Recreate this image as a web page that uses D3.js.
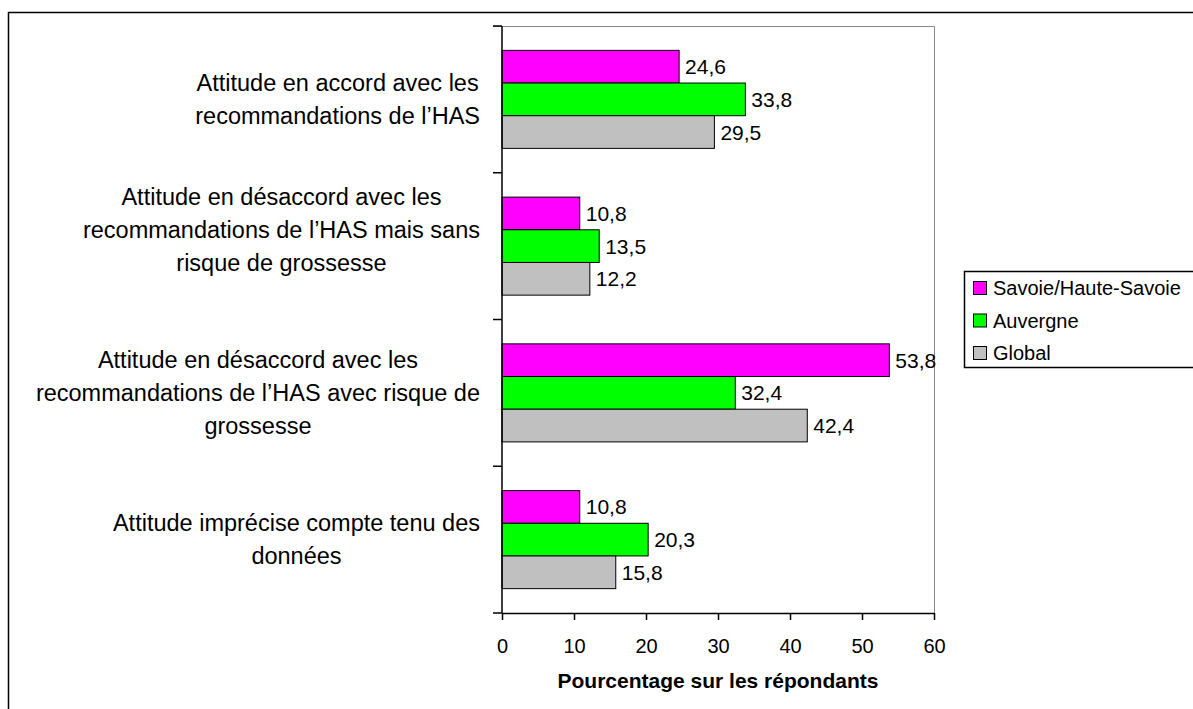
<html>
<head>
<meta charset="utf-8">
<title>Attitudes HAS</title>
<script src="https://cdn.jsdelivr.net/npm/d3@7/dist/d3.min.js"></script>
<style type="text/css">
    body { margin: 0; background: #fff; }
    svg { display: block; font-family: "Liberation Sans", Arial, sans-serif; }
</style>
</head>
<body>
<svg id="svg"></svg>
<script type="text/javascript">
// categories (one entry per wrapped line, as in the original)
var categories = ["accord", "desaccordSans", "desaccordAvec", "imprecise"];
var categoryLines = [
    ["Attitude en accord avec les", "recommandations de l\u2019HAS"],
    ["Attitude en désaccord avec les", "recommandations de l\u2019HAS mais sans", "risque de grossesse", ""],
    ["Attitude en désaccord avec les", "recommandations de l\u2019HAS avec risque de", "grossesse"],
    ["Attitude imprécise compte tenu des", "données"]
];
var seriesNames = ["Savoie/Haute-Savoie", "Auvergne", "Global"];
var savoieValues = [24.6, 10.8, 53.8, 10.8];
var auvergneValues = [33.8, 13.5, 32.4, 20.3];
var globalValues = [29.5, 12.2, 42.4, 15.8];
var xTicks = [0, 10, 20, 30, 40, 50, 60];
var xTitle = "Pourcentage sur les répondants";

var colors = ["#FF00FF", "#00FF00", "#C0C0C0"];
var allValues = [savoieValues, auvergneValues, globalValues];

var svgWidth = 1193, svgHeight = 709;
var plotLeft = 502, plotRight = 934, plotTop = 26, plotBottom = 613;

var svg = d3.select("svg")
    .attr("width", svgWidth)
    .attr("height", svgHeight);

// outer frame (runs off the right and bottom edges)
svg.append("rect")
    .attr("x", 8.5).attr("y", 12.5)
    .attr("width", 1200).attr("height", 720)
    .attr("fill", "none").attr("stroke", "#000").attr("stroke-width", 1.5);

var xScale = d3.scaleLinear().domain([0, 60]).range([plotLeft, plotRight]);
var y0 = d3.scaleBand().domain(categories).range([plotTop, plotBottom]);
var pad = y0.bandwidth() * 0.166;
var y1 = d3.scaleBand().domain(seriesNames).range([pad, y0.bandwidth() - pad]);

// plot area top and right borders (grey)
svg.append("path")
    .attr("d", "M" + (plotLeft - 9) + "," + (plotTop + 0.5) + "H" + (plotRight + 0.5) + "V" + plotBottom)
    .attr("fill", "none").attr("stroke", "#888").attr("stroke-width", 1);

// bars
var rows = [];
categories.forEach(function(c, i) {
    seriesNames.forEach(function(s, j) {
        rows.push({cat: c, ser: s, v: allValues[j][i], col: colors[j]});
    });
});

svg.selectAll(".bar").data(rows).enter().append("rect")
    .attr("class", "bar")
    .attr("x", xScale(0))
    .attr("y", function(d) { return y0(d.cat) + y1(d.ser); })
    .attr("width", function(d) { return xScale(d.v) - xScale(0); })
    .attr("height", y1.bandwidth())
    .attr("fill", function(d) { return d.col; })
    .attr("stroke", "#000").attr("stroke-width", 1);

svg.selectAll(".val").data(rows).enter().append("text")
    .attr("class", "val")
    .attr("x", function(d) { return xScale(d.v) + 6; })
    .attr("y", function(d) { return y0(d.cat) + y1(d.ser) + y1.bandwidth() / 2 + 7.5; })
    .attr("font-size", 21)
    .text(function(d) { return d3.format(".1f")(d.v).replace(".", ","); });

// x axis
var gX = svg.append("g")
    .attr("transform", "translate(0," + plotBottom + ")")
    .call(d3.axisBottom(xScale).tickValues(xTicks).tickSize(7).tickSizeOuter(0));
gX.select(".domain").attr("stroke", "#000").attr("stroke-width", 1.5);
gX.selectAll("line").attr("stroke", "#000").attr("stroke-width", 1.5);
gX.selectAll("text").attr("font-size", 20).attr("fill", "#000")
    .attr("font-family", "Liberation Sans, Arial, sans-serif")
    .attr("y", 40).attr("dy", 0);

svg.append("text")
    .attr("x", (plotLeft + plotRight) / 2).attr("y", 688)
    .attr("text-anchor", "middle")
    .attr("font-size", 21).attr("font-weight", "bold")
    .text(xTitle);

// y axis line and ticks at band boundaries
svg.append("line")
    .attr("x1", plotLeft).attr("x2", plotLeft)
    .attr("y1", plotTop).attr("y2", plotBottom)
    .attr("stroke", "#000").attr("stroke-width", 1.5);
var bounds = categories.map(function(c) { return y0(c); }).concat([plotBottom]);
svg.selectAll(".ytick").data(bounds).enter().append("line")
    .attr("class", "ytick")
    .attr("x1", plotLeft - 9).attr("x2", plotLeft)
    .attr("y1", function(d) { return d; }).attr("y2", function(d) { return d; })
    .attr("stroke", "#000").attr("stroke-width", 1.5);

// category labels, wrapped lines centred inside a block ending near the axis
var lineH = 33;
categories.forEach(function(c, i) {
    var lines = categoryLines[i];
    var g = svg.append("g");
    var texts = g.selectAll("text").data(lines).enter().append("text")
        .attr("font-size", 23.5)
        .attr("text-anchor", "middle")
        .attr("y", function(d, k) {
            return y0(c) + y0.bandwidth() / 2 + (k - (lines.length - 1) / 2) * lineH + 8;
        })
        .text(function(d) { return d; });
    var maxW = 0;
    texts.each(function() { maxW = Math.max(maxW, this.getComputedTextLength()); });
    texts.attr("x", 480 - maxW / 2);
});

// legend
var lg = svg.append("g").attr("transform", "translate(964,271)");
lg.append("rect")
    .attr("x", 0.5).attr("y", 0.5).attr("width", 300).attr("height", 96)
    .attr("fill", "#fff").attr("stroke", "#000").attr("stroke-width", 1.5);
var items = lg.selectAll(".item").data(seriesNames).enter().append("g")
    .attr("class", "item")
    .attr("transform", function(d, i) { return "translate(0," + (17 + i * 32.5) + ")"; });
items.append("rect")
    .attr("x", 9.5).attr("y", -6.5).attr("width", 13).attr("height", 13)
    .attr("fill", function(d, i) { return colors[i]; })
    .attr("stroke", "#000").attr("stroke-width", 1);
items.append("text")
    .attr("x", 29).attr("y", 7)
    .attr("font-size", 20)
    .text(function(d) { return d; });
</script>
</body>
</html>
